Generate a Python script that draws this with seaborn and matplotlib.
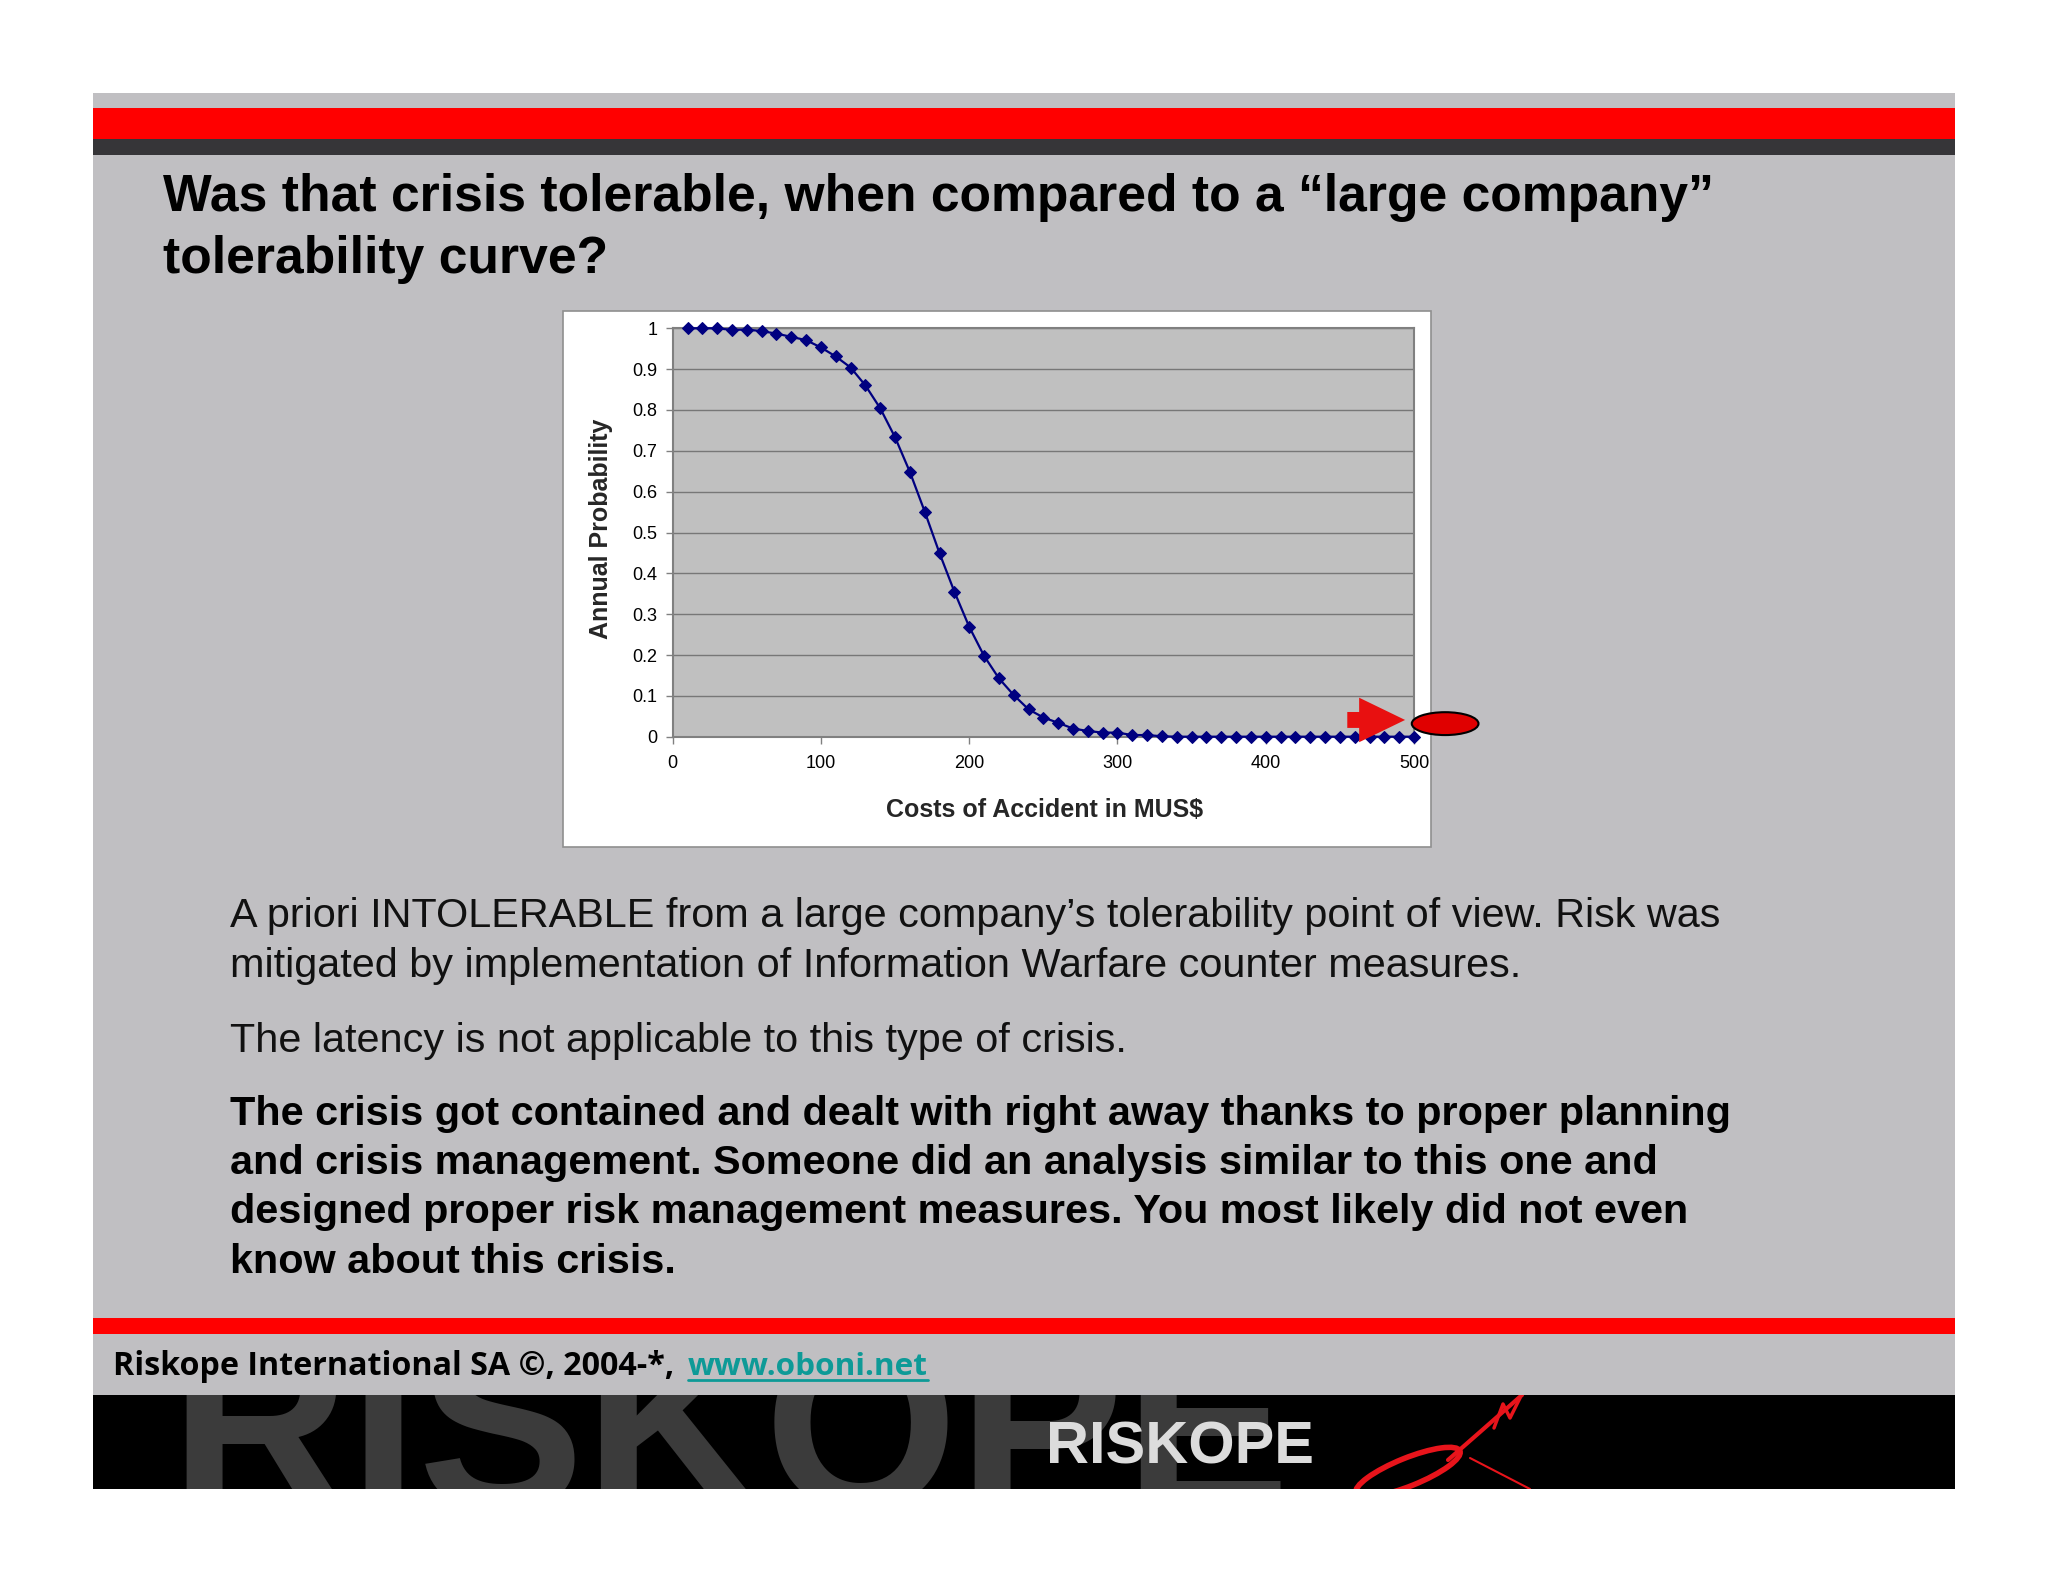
import matplotlib
matplotlib.use("Agg")
import matplotlib.pyplot as plt
import seaborn as sns
import pandas as pd
from matplotlib.patches import Rectangle, Ellipse, FancyArrow

# tolerability curve
cost = [10, 20, 30, 40, 50, 60, 70, 80, 90, 100,
        110, 120, 130, 140, 150, 160, 170, 180, 190, 200,
        210, 220, 230, 240, 250, 260, 270, 280, 290, 300,
        310, 320, 330, 340, 350, 360, 370, 380, 390, 400,
        410, 420, 430, 440, 450, 460, 470, 480, 490, 500]
prob = [1.0, 1.0, 1.0, 0.996, 0.997, 0.993, 0.987, 0.979, 0.971, 0.953,
        0.931, 0.904, 0.860, 0.804, 0.733, 0.648, 0.551, 0.449, 0.355, 0.269,
        0.198, 0.143, 0.102, 0.067, 0.047, 0.034, 0.020, 0.014, 0.010, 0.010,
        0.004, 0.004, 0.001, 0.0, 0.0, 0.0, 0.0, 0.0, 0.0, 0.0,
        0.0, 0.0, 0.0, 0.0, 0.0, 0.0, 0.0, 0.0, 0.0, 0.0]

xticks = [0, 100, 200, 300, 400, 500]
xtick_labels = ['0', '100', '200', '300', '400', '500']
yticks = [0, 0.1, 0.2, 0.3, 0.4, 0.5, 0.6, 0.7, 0.8, 0.9, 1.0]
ytick_labels = ['0', '0.1', '0.2', '0.3', '0.4', '0.5', '0.6', '0.7', '0.8', '0.9', '1']

# the crisis (red ellipse) and the arrow pointing at it
crisis_cost, crisis_prob = 521, 0.032
arrow_start, arrow_end, arrow_prob = 455, 494, 0.041

title_lines = ['Was that crisis tolerable, when compared to a \u201clarge company\u201d',
               'tolerability curve?']
body_lines = ['A priori INTOLERABLE from a large company\u2019s tolerability point of view. Risk was',
              'mitigated by implementation of Information Warfare counter measures.',
              'The latency is not applicable to this type of crisis.']
bold_lines = ['The crisis got contained and dealt with right away thanks to proper planning',
              'and crisis management. Someone did an analysis similar to this one and',
              'designed proper risk management measures. You most likely did not even',
              'know about this crisis.']
footer_text = 'Riskope International SA \u00a9, 2004-*,'
footer_link = 'www.oboni.net'

sns.set_style("white")
plt.rcParams['font.family'] = ['Liberation Sans', 'DejaVu Sans']

W, H = 2048, 1582
fig = plt.figure(figsize=(W / 100, H / 100), dpi=100)
fig.patch.set_facecolor('white')

# slide background, drawn in pixel coordinates
bg = fig.add_axes([0, 0, 1, 1])
bg.set_xlim(0, W)
bg.set_ylim(H, 0)
bg.axis('off')

slide_l, slide_r = 93, 1955


def band(y0, y1, color):
    bg.add_patch(Rectangle((slide_l, y0), slide_r - slide_l, y1 - y0, facecolor=color, lw=0))


band(93, 1395, '#C0BFC2')
band(108, 139, '#FF0000')
band(139, 155, '#363538')
band(1318, 1334, '#FF0000')

# white chart frame
bg.add_patch(Rectangle((563, 311), 868, 536, facecolor='white', edgecolor='#8f8f8f', lw=1.2))

t1 = bg.text(163, 210.7, title_lines[0], fontsize=37, fontweight='bold', color='black', va='baseline')
t2 = bg.text(163, 273.4, title_lines[1], fontsize=37, fontweight='bold', color='black', va='baseline')

for y, line in zip([926.7, 976.7, 1051.7], body_lines):
    bg.text(230, y, line, fontsize=29.8, color='#111111', va='baseline')
for y, line in zip([1125, 1174, 1223.3, 1273.3], bold_lines):
    bg.text(230, y, line, fontsize=29.8, fontweight='bold', color='#000000', va='baseline')

foot = bg.text(112.6, 1375, footer_text, family=['Open Sans', 'DejaVu Sans'], fontweight='bold',
               fontsize=20, color='black', va='baseline')
link = bg.text(688, 1375, footer_link, family=['Open Sans', 'DejaVu Sans'], fontweight='bold',
               fontsize=20, color='#0E9A97', va='baseline')

# chart
ax = fig.add_axes([672.7 / W, 1 - 736.7 / H, 741.3 / W, 408.4 / H])
ax.set_facecolor('#C0C0C0')
df = pd.DataFrame({'cost': cost, 'prob': prob})
sns.lineplot(data=df, x='cost', y='prob', ax=ax, color='#000080', lw=1.6,
             marker='D', markersize=6.4, markeredgecolor='#000080', clip_on=False, zorder=3)
ax.set_xlim(0, 500)
ax.set_ylim(0, 1)
ax.set_xticks(xticks, xtick_labels)
ax.set_yticks(yticks, ytick_labels)
ax.tick_params(axis='both', bottom=True, left=True, direction='out', length=5, width=1,
               color='#808080', labelsize=13, labelcolor='black')
ax.tick_params(axis='x', pad=8)
ax.tick_params(axis='y', pad=6)
ax.yaxis.grid(True, color='#777777', lw=1)
ax.xaxis.grid(False)
ax.set_axisbelow(True)
for s in ax.spines.values():
    s.set_color('#808080')
    s.set_linewidth(1.5)
ax.set_xlabel('Costs of Accident in MUS$', fontsize=18, fontweight='bold')
ax.set_ylabel('Annual Probability', fontsize=18, fontweight='bold')
ax.xaxis.set_label_coords(0.502, -0.15)
ax.yaxis.set_label_coords(-0.080, 0.51)

ax.add_patch(FancyArrow(arrow_start, arrow_prob, arrow_end - arrow_start, 0, width=0.039,
                        head_width=0.109, head_length=31, length_includes_head=True,
                        facecolor='#E81010', edgecolor='none', clip_on=False, zorder=5))
ax.add_patch(Ellipse((crisis_cost, crisis_prob), 45, 0.056, facecolor='#E00000',
                     edgecolor='black', lw=1.5, clip_on=False, zorder=5))

# black logo band at the bottom
band_ax = fig.add_axes([slide_l / W, 1 - 1489 / H, (slide_r - slide_l) / W, 94 / H])
band_ax.set_facecolor('black')
band_ax.set_xlim(slide_l, slide_r)
band_ax.set_ylim(1489, 1395)
band_ax.set_xticks([])
band_ax.set_yticks([])
for s in band_ax.spines.values():
    s.set_visible(False)
wm = band_ax.text(169, 1445, 'RISKOPE', fontsize=170, fontweight='bold', color='#3b3b3b',
                  va='center', ha='left', clip_on=True)
logo = band_ax.text(1046, 1464, 'RISKOPE', fontsize=44, fontweight='bold', color='#dcdcdc',
                    va='baseline', ha='left')
band_ax.add_patch(Ellipse((1408, 1472), 112, 28, angle=-22, fill=False, edgecolor='#E8141B', lw=4))
band_ax.plot([1448, 1480, 1522], [1460, 1432, 1395], color='#E8141B', lw=3)
band_ax.plot([1494, 1503, 1510, 1520], [1428, 1404, 1418, 1398], color='#E8141B', lw=2.5)
band_ax.plot([1470, 1530], [1458, 1489], color='#E8141B', lw=1.5)


def fit_width(t, target):
    fig.canvas.draw()
    w = t.get_window_extent().width
    t.set_fontsize(t.get_fontsize() * target / w)


fit_width(t1, 1551)
t2.set_fontsize(t1.get_fontsize())
fit_width(foot, 561)
fit_width(link, 240)
fit_width(wm, 1121)
fit_width(logo, 268)

# underline the link
fig.canvas.draw()
lb = link.get_window_extent()
inv = bg.transData.inverted()
lx0 = inv.transform((lb.x0, 0))[0]
lx1 = inv.transform((lb.x1, 0))[0]
bg.plot([lx0, lx1], [1380, 1380], color='#0E9A97', lw=2)

fig.savefig('out.png', dpi=100)
